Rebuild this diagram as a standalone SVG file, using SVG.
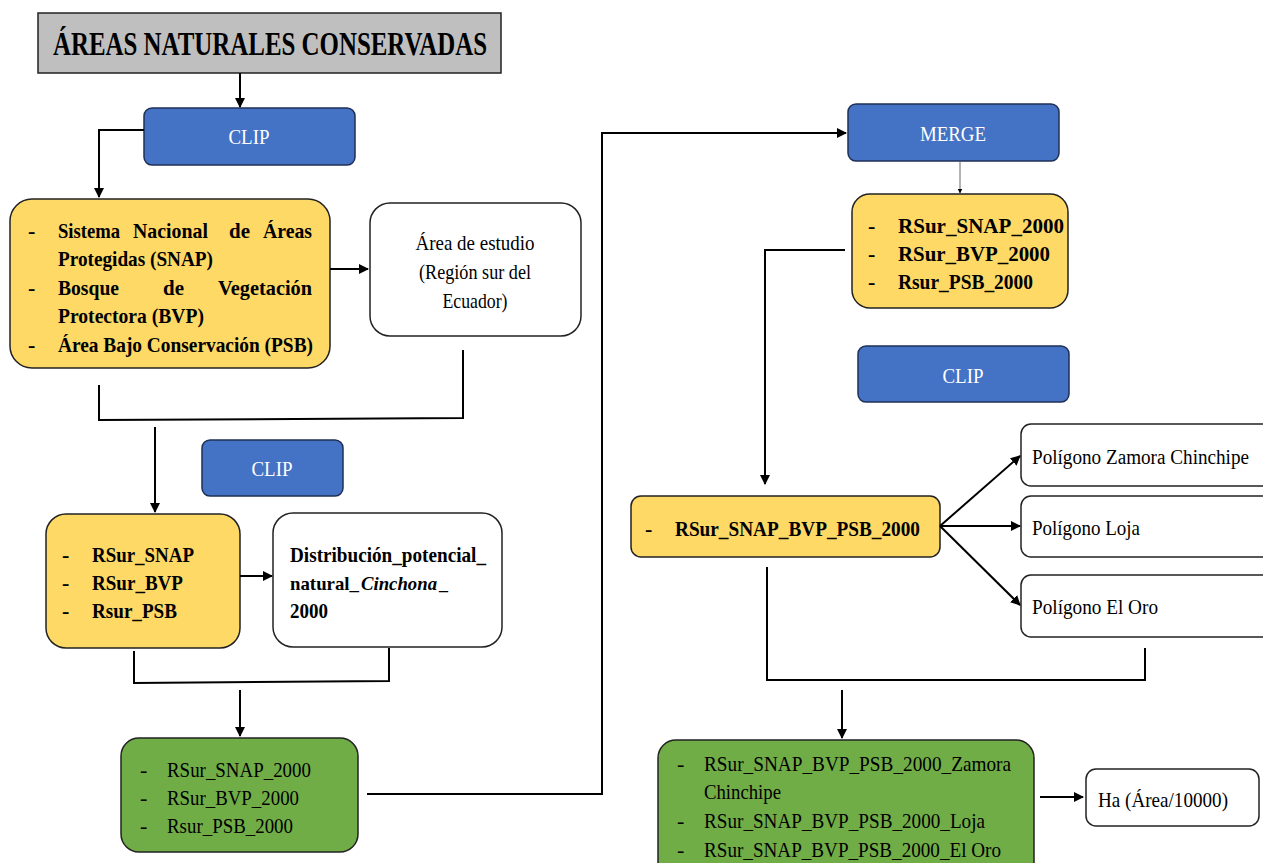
<svg xmlns="http://www.w3.org/2000/svg" width="1263" height="863" viewBox="0 0 1263 863">
<style>
text{font-family:"Liberation Serif","Times New Roman",serif;font-size:22px;fill:#000}
.b{font-weight:bold}
.i{font-style:italic}
.s{font-size:19px}
.w{fill:#fff}
.blue{fill:#4472C4;stroke:#1f2f55;stroke-width:1.5}
.yel{fill:#FFD966;stroke:#222;stroke-width:1.5}
.grn{fill:#70AD47;stroke:#222;stroke-width:1.5}
.wht{fill:#fff;stroke:#222;stroke-width:1.5}
.c line,.c polyline{fill:none;stroke:#000;stroke-width:2}
</style>
<defs>
<marker id="ah" viewBox="0 0 10 10" refX="9" refY="5" markerWidth="5" markerHeight="5" orient="auto"><path d="M0,0 L10,5 L0,10 z" fill="#000"/></marker>
</defs>
<rect width="1263" height="863" fill="#fff"/>

<g id="title">
<rect x="38" y="13" width="463" height="60" fill="#BFBFBF" stroke="#222" stroke-width="1.5"/>
<text class="b" x="53" y="55" style="font-size:33px" textLength="434" lengthAdjust="spacingAndGlyphs">ÁREAS NATURALES CONSERVADAS</text>
</g>

<g id="clip1">
<rect class="blue" x="144" y="108" width="211" height="57" rx="8"/>
<text class="w" x="249" y="144" text-anchor="middle" textLength="41" lengthAdjust="spacingAndGlyphs">CLIP</text>
</g>

<g id="inputs">
<rect class="yel" x="10" y="199" width="320" height="169" rx="22"/>
<text class="b" x="28" y="238">-</text>
<text class="b" x="58" y="238" textLength="62" lengthAdjust="spacingAndGlyphs">Sistema</text>
<text class="b" x="133" y="238" textLength="75" lengthAdjust="spacingAndGlyphs">Nacional</text>
<text class="b" x="229" y="238" textLength="21" lengthAdjust="spacingAndGlyphs">de</text>
<text class="b" x="263" y="238" textLength="49" lengthAdjust="spacingAndGlyphs">Áreas</text>
<text class="b" x="58" y="266" textLength="155" lengthAdjust="spacingAndGlyphs">Protegidas (SNAP)</text>
<text class="b" x="28" y="295">-</text>
<text class="b" x="58" y="295" textLength="61" lengthAdjust="spacingAndGlyphs">Bosque</text>
<text class="b" x="163" y="295" textLength="21" lengthAdjust="spacingAndGlyphs">de</text>
<text class="b" x="218" y="295" textLength="94" lengthAdjust="spacingAndGlyphs">Vegetación</text>
<text class="b" x="58" y="323" textLength="146" lengthAdjust="spacingAndGlyphs">Protectora (BVP)</text>
<text class="b" x="28" y="352">-</text>
<text class="b" x="58" y="352" textLength="255" lengthAdjust="spacingAndGlyphs">Área Bajo Conservación (PSB)</text>
</g>

<g id="area_estudio">
<rect class="wht" x="370" y="203" width="211" height="133" rx="20"/>
<text x="475" y="250" text-anchor="middle" textLength="119" lengthAdjust="spacingAndGlyphs">Área de estudio</text>
<text x="475" y="279" text-anchor="middle" textLength="112" lengthAdjust="spacingAndGlyphs">(Región sur del</text>
<text x="475" y="308" text-anchor="middle" textLength="65" lengthAdjust="spacingAndGlyphs">Ecuador)</text>
</g>

<g id="clip2">
<rect class="blue" x="202" y="440" width="141" height="56" rx="8"/>
<text class="w" x="272" y="476" text-anchor="middle" textLength="41" lengthAdjust="spacingAndGlyphs">CLIP</text>
</g>

<g id="rsur">
<rect class="yel" x="46" y="514" width="194" height="134" rx="20"/>
<text class="b" x="62" y="562">-</text>
<text class="b" x="92" y="562" textLength="102" lengthAdjust="spacingAndGlyphs">RSur_SNAP</text>
<text class="b" x="62" y="590">-</text>
<text class="b" x="92" y="590" textLength="91" lengthAdjust="spacingAndGlyphs">RSur_BVP</text>
<text class="b" x="62" y="618">-</text>
<text class="b" x="92" y="618" textLength="85" lengthAdjust="spacingAndGlyphs">Rsur_PSB</text>
</g>

<g id="distribucion">
<rect class="wht" x="273" y="513" width="229" height="134" rx="20"/>
<text class="b" x="290" y="562" textLength="196" lengthAdjust="spacingAndGlyphs">Distribución_potencial_</text>
<text class="b s" x="290" y="590" textLength="69" lengthAdjust="spacingAndGlyphs">natural_</text>
<text class="b i s" x="361" y="590" textLength="76" lengthAdjust="spacingAndGlyphs">Cinchona</text>
<text class="b s" x="439" y="590" textLength="9" lengthAdjust="spacingAndGlyphs">_</text>
<text class="b" x="290" y="618" textLength="38" lengthAdjust="spacingAndGlyphs">2000</text>
</g>

<g id="rsur2000">
<rect class="grn" x="121" y="738" width="237" height="114" rx="18"/>
<text x="140" y="777">-</text>
<text x="167" y="777" textLength="144" lengthAdjust="spacingAndGlyphs">RSur_SNAP_2000</text>
<text x="140" y="805">-</text>
<text x="167" y="805" textLength="132" lengthAdjust="spacingAndGlyphs">RSur_BVP_2000</text>
<text x="140" y="833">-</text>
<text x="167" y="833" textLength="126" lengthAdjust="spacingAndGlyphs">Rsur_PSB_2000</text>
</g>

<g id="merge">
<rect class="blue" x="848" y="104" width="211" height="57" rx="8"/>
<text class="w" x="953" y="141" text-anchor="middle" textLength="66" lengthAdjust="spacingAndGlyphs">MERGE</text>
</g>

<g id="rsur2000b">
<rect class="yel" x="852" y="194" width="216" height="114" rx="18"/>
<text class="b" x="868" y="233">-</text>
<text class="b" x="898" y="233" textLength="166" lengthAdjust="spacingAndGlyphs">RSur_SNAP_2000</text>
<text class="b" x="868" y="261">-</text>
<text class="b" x="898" y="261" textLength="152" lengthAdjust="spacingAndGlyphs">RSur_BVP_2000</text>
<text class="b" x="868" y="289">-</text>
<text class="b" x="898" y="289" textLength="135" lengthAdjust="spacingAndGlyphs">Rsur_PSB_2000</text>
</g>

<g id="clip3">
<rect class="blue" x="858" y="346" width="211" height="56" rx="8"/>
<text class="w" x="963" y="383" text-anchor="middle" textLength="41" lengthAdjust="spacingAndGlyphs">CLIP</text>
</g>

<g id="merged">
<rect class="yel" x="631" y="496" width="309" height="61" rx="10"/>
<text class="b" x="645" y="536">-</text>
<text class="b" x="675" y="536" textLength="245" lengthAdjust="spacingAndGlyphs">RSur_SNAP_BVP_PSB_2000</text>
</g>

<g id="pol_zamora">
<rect class="wht" x="1021" y="424" width="260" height="62" rx="10"/>
<text x="1032" y="464" style="font-size:20px" textLength="217" lengthAdjust="spacingAndGlyphs">Polígono Zamora Chinchipe</text>
</g>
<g id="pol_loja">
<rect class="wht" x="1021" y="496" width="260" height="61" rx="10"/>
<text x="1032" y="535" textLength="108" lengthAdjust="spacingAndGlyphs">Polígono Loja</text>
</g>
<g id="pol_oro">
<rect class="wht" x="1021" y="575" width="260" height="62" rx="10"/>
<text x="1032" y="614" textLength="126" lengthAdjust="spacingAndGlyphs">Polígono El Oro</text>
</g>

<g id="resultado">
<rect class="grn" x="658" y="740" width="376" height="140" rx="18"/>
<text x="677" y="771">-</text>
<text x="704" y="771" textLength="307" lengthAdjust="spacingAndGlyphs">RSur_SNAP_BVP_PSB_2000_Zamora</text>
<text x="704" y="799" textLength="77" lengthAdjust="spacingAndGlyphs">Chinchipe</text>
<text x="677" y="828">-</text>
<text x="704" y="828" textLength="281" lengthAdjust="spacingAndGlyphs">RSur_SNAP_BVP_PSB_2000_Loja</text>
<text x="677" y="857">-</text>
<text x="704" y="857" textLength="297" lengthAdjust="spacingAndGlyphs">RSur_SNAP_BVP_PSB_2000_El Oro</text>
</g>

<g id="ha">
<rect class="wht" x="1086" y="769" width="173" height="57" rx="10"/>
<text x="1098" y="807" textLength="130" lengthAdjust="spacingAndGlyphs">Ha (Área/10000)</text>
</g>

<g id="connectors" class="c">
<line x1="240" y1="73" x2="240" y2="107" marker-end="url(#ah)"/>
<polyline points="144,130 99,130 99,197" marker-end="url(#ah)"/>
<line x1="330" y1="269" x2="368" y2="269" marker-end="url(#ah)"/>
<polyline points="99,385 99,420 463,418 463,350"/>
<line x1="155" y1="427" x2="155" y2="512" marker-end="url(#ah)"/>
<line x1="240" y1="576" x2="272" y2="576" marker-end="url(#ah)"/>
<polyline points="134,651 134,683 389,681 389,648"/>
<line x1="240" y1="690" x2="240" y2="736" marker-end="url(#ah)"/>
<polyline points="367,794 602,794 602,133 846,133" marker-end="url(#ah)"/>
<line x1="960" y1="161" x2="960" y2="193" style="stroke:#666;stroke-width:1" marker-end="url(#ah)"/>
<polyline points="845,250 765,250 765,484" marker-end="url(#ah)"/>
<line x1="940" y1="526" x2="1020" y2="456" marker-end="url(#ah)"/>
<line x1="940" y1="526" x2="1020" y2="526" marker-end="url(#ah)"/>
<line x1="940" y1="526" x2="1020" y2="605" marker-end="url(#ah)"/>
<polyline points="767,567 767,680 1145,680 1145,648"/>
<line x1="842" y1="690" x2="842" y2="738" marker-end="url(#ah)"/>
<line x1="1040" y1="797" x2="1083" y2="797" marker-end="url(#ah)"/>
</g>
</svg>
